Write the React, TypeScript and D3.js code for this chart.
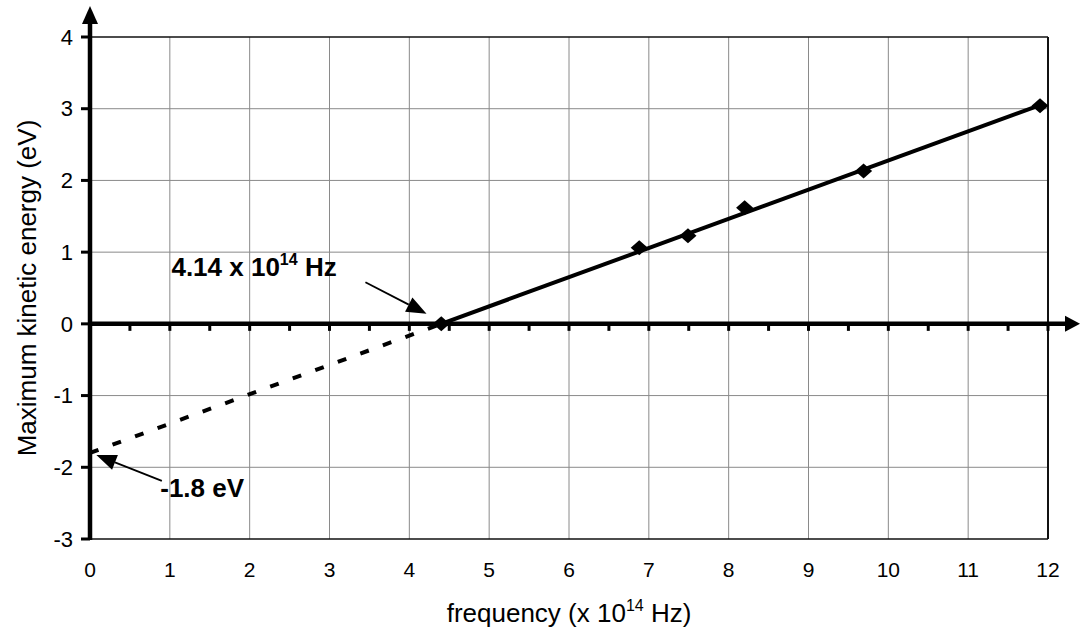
import React from "react";
import * as d3 from "d3";

// Measured photoelectric data: frequency (x 10^14 Hz) vs max kinetic energy (eV)
const frequency = [4.4, 6.88, 7.49, 8.2, 9.69, 11.9];
const energy = [0, 1.06, 1.23, 1.62, 2.13, 3.04];

// Best-fit line through the data and its extrapolation back to f = 0
const fitFreq = [4.4, 11.9];
const fitEnergy = [0, 3.05];
const extrapFreq = [0, 4.4];
const extrapEnergy = [-1.8, 0];

const xTicks = [0, 1, 2, 3, 4, 5, 6, 7, 8, 9, 10, 11, 12];
const yTicks = [-3, -2, -1, 0, 1, 2, 3, 4];
const xMinorTicks = d3.range(0.5, 12.01, 0.5);

const thresholdText = "4.14 x 10";
const thresholdSup = "14";
const thresholdUnit = " Hz";
const thresholdValue = 4.14;
const interceptText = "-1.8 eV";
const interceptValue = -1.8;

const W = 1080;
const H = 632;
const FONT = "'Liberation Sans', Arial, Helvetica, sans-serif";

function arrowHead(tail: [number, number], tip: [number, number], len: number, half: number) {
  const dx = tip[0] - tail[0];
  const dy = tip[1] - tail[1];
  const d = Math.hypot(dx, dy);
  const ux = dx / d;
  const uy = dy / d;
  const bx = tip[0] - ux * len;
  const by = tip[1] - uy * len;
  const pts = [
    [tip[0], tip[1]],
    [bx - uy * half, by + ux * half],
    [bx + uy * half, by - ux * half],
  ];
  return { poly: pts.map((p) => p.join(",")).join(" "), base: [bx, by] as [number, number] };
}

export default function App() {
  const x = d3.scaleLinear().domain([0, 12]).range([90, 1048]);
  const y = d3.scaleLinear().domain([-3, 4]).range([539, 37]);

  const line = d3
    .line<[number, number]>()
    .x((d) => x(d[0]))
    .y((d) => y(d[1]));

  const fitPts = fitFreq.map((f, i) => [f, fitEnergy[i]] as [number, number]);
  const extrapPts = extrapFreq.map((f, i) => [f, extrapEnergy[i]] as [number, number]);

  // square marker turned 45 degrees -> rhombus
  const diamond = d3.symbol().type(d3.symbolSquare).size(125)() as string;

  // Annotation arrows (data space)
  const thrTail: [number, number] = [x(3.45), y(0.58)];
  const thrTip: [number, number] = [x(thresholdValue) + 6, y(0.14)];
  const thrHead = arrowHead(thrTail, thrTip, 20, 8);

  const intTail: [number, number] = [x(0.9), y(-2.19)];
  const intTip: [number, number] = [x(0.08), y(interceptValue - 0.03)];
  const intHead = arrowHead(intTail, intTip, 20, 8);

  const x0 = x(0);
  const y0 = y(0);

  return (
    <svg
      width={W}
      height={H}
      viewBox={`0 0 ${W} ${H}`}
      style={{ position: "absolute", left: 0, top: 0, background: "#fff", fontFamily: FONT }}
    >
      <rect x={0} y={0} width={W} height={H} fill="#fff" />

      {/* grid */}
      <g stroke="#8a8a8a" strokeWidth={1}>
        {xTicks.slice(1, -1).map((t) => (
          <line key={`gx${t}`} x1={x(t)} x2={x(t)} y1={y(4)} y2={y(-3)} />
        ))}
        {yTicks.filter((t) => t !== 0 && t !== 4 && t !== -3).map((t) => (
          <line key={`gy${t}`} x1={x(0)} x2={x(12)} y1={y(t)} y2={y(t)} />
        ))}
      </g>

      {/* plot frame */}
      <g stroke="#111" fill="none">
        <line x1={x(0)} x2={x(12)} y1={y(4)} y2={y(4)} strokeWidth={1.6} />
        <line x1={x(0)} x2={x(12)} y1={y(-3)} y2={y(-3)} strokeWidth={1.6} />
        <line x1={x(12)} x2={x(12)} y1={y(4)} y2={y(-3)} strokeWidth={2} />
      </g>

      {/* extrapolated (dashed) segment */}
      <path d={line(extrapPts) as string} fill="none" stroke="#000" strokeWidth={4} strokeDasharray="9 15" />

      {/* y axis with arrow */}
      <line x1={x0} x2={x0} y1={y(-3) + 1} y2={22} stroke="#000" strokeWidth={4.5} />
      <polygon points={`${x0},6 ${x0 - 8},24 ${x0 + 8},24`} fill="#000" />
      {yTicks.map((t) => (
        <line key={`yt${t}`} x1={x0 - 9} x2={x0} y1={y(t)} y2={y(t)} stroke="#000" strokeWidth={3} />
      ))}
      {yTicks.map((t) => (
        <text
          key={`yl${t}`}
          x={x0 - 17}
          y={y(t)}
          dy="0.35em"
          textAnchor="end"
          fontSize={22}
          fill="#000"
        >
          {t}
        </text>
      ))}

      {/* x axis with arrow */}
      <line x1={x0} x2={1066} y1={y0} y2={y0} stroke="#000" strokeWidth={4.5} />
      <polygon points={`1080,${y0} 1065,${y0 - 8} 1065,${y0 + 8}`} fill="#000" />
      {xMinorTicks.map((t) => (
        <line key={`xt${t}`} x1={x(t)} x2={x(t)} y1={y0} y2={y0 + 7} stroke="#000" strokeWidth={3} />
      ))}
      {xTicks.map((t) => (
        <text key={`xl${t}`} x={x(t)} y={577} textAnchor="middle" fontSize={21} fill="#000">
          {t}
        </text>
      ))}

      {/* fitted line */}
      <path d={line(fitPts) as string} fill="none" stroke="#000" strokeWidth={4} />

      {/* data points */}
      {frequency.map((f, i) => (
        <path
          key={`pt${i}`}
          d={diamond}
          transform={`translate(${x(f)},${y(energy[i])}) scale(1.08,0.95) rotate(45)`}
          fill="#000"
        />
      ))}

      {/* threshold annotation */}
      <line
        x1={thrTail[0]}
        y1={thrTail[1]}
        x2={thrHead.base[0]}
        y2={thrHead.base[1]}
        stroke="#000"
        strokeWidth={1.8}
      />
      <polygon points={thrHead.poly} fill="#000" />
      <text x={x(1.02)} y={y(0.67)} fontSize={26} fontWeight="bold" fill="#000">
        {thresholdText}
        <tspan fontSize={16} dy={-11}>
          {thresholdSup}
        </tspan>
        <tspan dy={11}>{thresholdUnit}</tspan>
      </text>

      {/* intercept annotation */}
      <line
        x1={intTail[0]}
        y1={intTail[1]}
        x2={intHead.base[0]}
        y2={intHead.base[1]}
        stroke="#000"
        strokeWidth={1.8}
      />
      <polygon points={intHead.poly} fill="#000" />
      <text x={x(0.88)} y={y(-2.41)} fontSize={26} fontWeight="bold" fill="#000">
        {interceptText}
      </text>

      {/* axis titles */}
      <text x={(x(0) + x(12)) / 2} y={622} textAnchor="middle" fontSize={26} fill="#000">
        frequency (x 10
        <tspan fontSize={16} dy={-11}>
          14
        </tspan>
        <tspan dy={11}> Hz)</tspan>
      </text>
      <text
        transform={`translate(36,${(y(4) + y(-3)) / 2}) rotate(-90)`}
        textAnchor="middle"
        fontSize={26}
        fill="#000"
      >
        Maximum kinetic energy (eV)
      </text>
    </svg>
  );
}
